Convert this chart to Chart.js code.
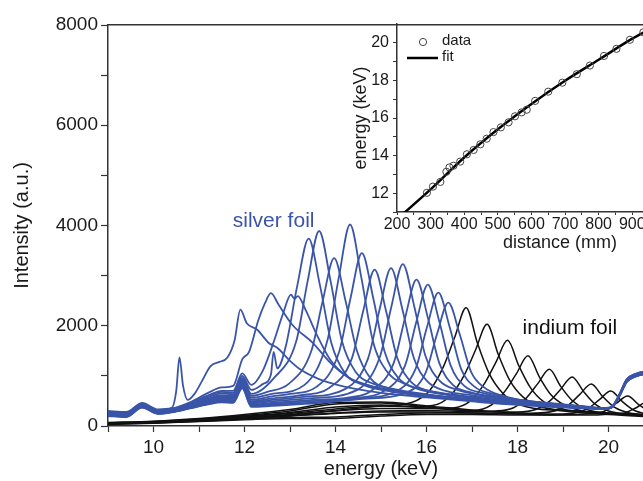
<!DOCTYPE html>
<html>
<head>
<meta charset="utf-8">
<script src="https://cdn.jsdelivr.net/npm/chart.js@4.4.0/dist/chart.umd.min.js"></script>
<style>
  html, body { margin: 0; padding: 0; background: #fff; overflow: hidden; width: 643px; height: 481px; }
  #wrap { position: relative; width: 643px; height: 481px; overflow: hidden; }
  #main { position: absolute; left: 0; top: 0; }
  #inset { position: absolute; left: 330px; top: 0; }
</style>
</head>
<body>
<div id="wrap">
  <canvas id="main" width="680" height="481"></canvas>
  <canvas id="inset" width="420" height="260"></canvas>
</div>
<script>
// spectra: [energy keV, intensity a.u.]
const silver1 = [[9.0,300],[9.4,280],[9.75,460],[10.1,330],[10.4,360],[10.5,700],[10.57,1370],[10.65,800],[10.75,520],[10.9,640],[11.05,870],[11.25,1190],[11.45,1280],[11.62,1360],[11.78,1700],[11.91,2320],[12.05,2050],[12.28,1920],[12.54,1650],[12.72,1560],[13.0,1300],[13.24,1120],[13.6,950],[14.0,830],[14.5,730],[15.0,660],[15.5,610],[16.0,570],[16.5,530],[17.0,490],[17.5,450],[18.0,420],[18.5,390],[19.0,370],[19.5,350],[19.95,340],[20.1,390],[20.25,620],[20.4,890],[20.6,1000],[20.8,1040],[21.0,1060]];
const silver2 = [[9.0,280],[9.4,265],[9.75,445],[10.1,315],[10.4,345],[10.8,470],[11.2,660],[11.5,770],[11.75,800],[11.95,1330],[12.1,1480],[12.3,2100],[12.45,2450],[12.58,2650],[12.75,2420],[13.05,2020],[13.5,1660],[13.9,1250],[14.3,960],[14.8,790],[15.3,690],[16.0,610],[16.6,550],[17.2,490],[18.0,430],[19.0,380],[19.95,350],[20.1,400],[20.25,630],[20.4,910],[20.6,1020],[20.8,1070],[21.0,1090]];
const silver3 = [[9.0,270],[9.4,250],[9.75,430],[10.1,300],[10.4,330],[10.8,450],[11.2,610],[11.5,700],[11.75,700],[11.95,1050],[12.15,820],[12.4,1100],[12.65,1700],[12.85,2250],[13.02,2620],[13.1,2540],[13.17,2590],[13.35,2300],[13.6,1800],[13.9,1300],[14.3,960],[14.8,790],[15.4,690],[16.0,620],[16.7,550],[17.4,490],[18.2,430],[19.0,390],[19.95,355],[20.1,405],[20.25,650],[20.4,930],[20.6,1040],[20.8,1090],[21.0,1110]];
const silver4 = [[9.0,260],[9.4,245],[9.75,430],[10.1,300],[10.4,330],[10.8,450],[11.2,600],[11.5,680],[11.75,660],[11.95,1000],[12.15,720],[12.41,840],[12.58,1020],[12.64,1480],[12.72,1150],[12.91,1600],[13.16,2800],[13.41,3740],[13.66,2800],[13.91,1650],[14.21,1050],[14.61,820],[15.2,690],[15.8,610],[16.5,550],[17.2,490],[18.0,440],[19.0,390],[19.95,360],[20.1,410],[20.25,650],[20.4,930],[20.6,1040],[20.8,1090],[21.0,1120]];
const silver5 = [[9.0,255],[9.4,235],[9.75,420],[10.1,290],[10.4,320],[10.8,430],[11.2,570],[11.5,650],[11.75,630],[11.95,960],[12.15,640],[12.64,950],[13.14,1700],[13.39,2900],[13.64,3890],[13.89,2900],[14.14,1700],[14.44,1080],[14.84,840],[15.44,710],[16.1,620],[16.8,550],[17.5,490],[18.3,430],[19.2,380],[19.95,350],[20.1,400],[20.25,640],[20.4,920],[20.6,1030],[20.8,1080],[21.0,1100]];
const silver6 = [[9.0,245],[9.4,228],[9.75,410],[10.1,285],[10.4,315],[10.8,420],[11.2,545],[11.5,615],[11.75,600],[11.95,930],[12.15,600],[12.5,680],[12.97,840],[13.47,1500],[13.72,2500],[13.97,3350],[14.22,2500],[14.47,1500],[14.77,950],[15.17,750],[15.77,650],[16.4,580],[17.1,520],[17.9,450],[18.8,390],[19.95,345],[20.1,395],[20.25,630],[20.4,900],[20.6,1010],[20.8,1060],[21.0,1080]];
const silver7 = [[9.0,240],[9.4,222],[9.75,405],[10.1,280],[10.4,310],[10.8,410],[11.2,525],[11.5,595],[11.75,580],[11.95,910],[12.15,560],[12.6,640],[13.32,820],[13.82,1700],[14.07,2950],[14.32,4020],[14.57,2950],[14.82,1700],[15.12,1100],[15.52,840],[16.12,690],[16.8,600],[17.5,530],[18.3,460],[19.2,400],[19.95,350],[20.1,400],[20.25,640],[20.4,910],[20.6,1020],[20.8,1070],[21.0,1090]];
const silver8 = [[9.0,235],[9.4,216],[9.75,400],[10.1,275],[10.4,305],[10.8,400],[11.2,510],[11.5,575],[11.75,560],[11.95,890],[12.15,520],[12.6,590],[13.0,640],[13.58,780],[14.08,1480],[14.33,2550],[14.58,3450],[14.83,2550],[15.08,1480],[15.38,960],[15.78,750],[16.38,630],[17.0,560],[17.8,490],[18.7,420],[19.5,370],[19.95,345],[20.1,395],[20.25,620],[20.4,890],[20.6,1000],[20.8,1050],[21.0,1070]];
const silver9 = [[9.0,230],[9.4,210],[9.75,395],[10.1,270],[10.4,300],[10.8,390],[11.2,495],[11.5,555],[11.75,545],[11.95,870],[12.15,490],[12.6,550],[13.2,610],[13.86,760],[14.36,1350],[14.61,2300],[14.86,3120],[15.11,2300],[15.36,1350],[15.66,880],[16.06,700],[16.66,610],[17.3,540],[18.1,470],[19.0,400],[19.95,340],[20.1,390],[20.25,620],[20.4,880],[20.6,990],[20.8,1040],[21.0,1060]];
const silver10 = [[9.0,225],[9.4,205],[9.75,390],[10.1,265],[10.4,295],[10.8,385],[11.2,485],[11.5,540],[11.75,530],[11.95,850],[12.15,470],[12.6,520],[13.3,580],[14.22,740],[14.72,1360],[14.97,2330],[15.22,3150],[15.47,2330],[15.72,1360],[16.02,890],[16.42,700],[17.02,610],[17.7,530],[18.5,460],[19.4,390],[19.95,345],[20.1,395],[20.25,630],[20.4,900],[20.6,1010],[20.8,1060],[21.0,1080]];
const silver11 = [[9.0,220],[9.4,200],[9.75,385],[10.1,260],[10.4,290],[10.8,375],[11.2,470],[11.5,525],[11.75,515],[11.95,830],[12.15,450],[12.6,490],[13.4,550],[14.48,720],[14.98,1390],[15.23,2390],[15.48,3230],[15.73,2390],[15.98,1390],[16.28,910],[16.68,720],[17.28,610],[18.0,520],[18.8,450],[19.6,380],[19.95,350],[20.1,400],[20.25,640],[20.4,910],[20.6,1020],[20.8,1070],[21.0,1090]];
const silver12 = [[9.0,215],[9.4,195],[9.75,380],[10.1,255],[10.4,285],[10.8,370],[11.2,460],[11.5,510],[11.75,500],[11.95,810],[12.15,430],[12.6,460],[13.5,520],[14.3,570],[14.78,700],[15.28,1260],[15.53,2160],[15.78,2920],[16.03,2160],[16.28,1260],[16.58,820],[16.98,670],[17.58,560],[18.3,480],[19.1,410],[19.95,345],[20.1,395],[20.25,620],[20.4,890],[20.6,1000],[20.8,1050],[21.0,1070]];
const silver13 = [[9.0,210],[9.4,190],[9.75,375],[10.1,250],[10.4,280],[10.8,360],[11.2,450],[11.5,495],[11.75,485],[11.95,790],[12.15,410],[12.6,440],[13.6,500],[14.4,560],[15.03,680],[15.53,1210],[15.78,2090],[16.03,2820],[16.28,2090],[16.53,1210],[16.83,800],[17.23,660],[17.83,540],[18.6,460],[19.4,390],[19.95,340],[20.1,390],[20.25,610],[20.4,880],[20.6,990],[20.8,1040],[21.0,1060]];
const silver14 = [[9.0,205],[9.4,185],[9.75,370],[10.1,245],[10.4,275],[10.8,355],[11.2,440],[11.5,480],[11.75,470],[11.95,770],[12.15,400],[12.6,420],[13.7,480],[14.5,550],[15.26,660],[15.76,1140],[16.01,1970],[16.26,2660],[16.51,1970],[16.76,1140],[17.06,780],[17.46,640],[18.06,520],[18.8,440],[19.5,380],[19.95,350],[20.1,400],[20.25,630],[20.4,900],[20.6,1010],[20.8,1060],[21.0,1080]];
const silver15 = [[9.0,200],[9.4,180],[9.75,365],[10.1,240],[10.4,270],[10.8,350],[11.2,430],[11.5,470],[11.75,460],[11.95,750],[12.15,380],[12.6,400],[13.8,470],[14.6,540],[15.48,640],[15.98,1060],[16.23,1830],[16.48,2460],[16.73,1830],[16.98,1080],[17.28,760],[17.68,600],[18.28,480],[19.0,410],[19.6,360],[19.95,340],[20.1,390],[20.25,610],[20.4,880],[20.6,990],[20.8,1040],[21.0,1060]];

const indium1 = [[9.0,50],[10.0,75],[11.0,115],[12.0,170],[13.0,230],[14.0,310],[15.0,400],[15.67,470],[16.07,710],[16.37,1180],[16.62,1770],[16.87,2360],[17.12,1650],[17.37,1060],[17.67,660],[18.07,420],[19.0,300],[20.0,230],[21.0,180]];
const indium2 = [[9.0,55],[10.0,80],[11.0,125],[12.0,185],[13.0,250],[14.0,340],[15.0,400],[15.6,390],[16.13,410],[16.53,610],[16.83,1015],[17.08,1520],[17.33,2030],[17.58,1420],[17.83,910],[18.13,570],[18.53,380],[19.5,290],[20.5,220],[21.0,200]];
const indium3 = [[9.0,45],[10.0,70],[11.0,110],[12.0,160],[13.0,220],[14.0,300],[15.0,350],[16.0,350],[16.58,360],[16.98,510],[17.28,855],[17.53,1280],[17.78,1710],[18.03,1200],[18.28,770],[18.58,480],[18.98,340],[20.0,260],[21.0,210]];
const indium4 = [[9.0,60],[10.0,85],[11.0,130],[12.0,195],[13.0,270],[14.0,380],[15.0,420],[16.0,360],[17.03,310],[17.43,420],[17.73,700],[17.98,1050],[18.23,1400],[18.48,980],[18.73,630],[19.03,420],[19.43,300],[20.5,240],[21.0,220]];
const indium5 = [[9.0,40],[10.0,65],[11.0,100],[12.0,150],[13.0,200],[14.0,260],[15.0,300],[16.0,310],[17.0,290],[17.5,300],[17.9,360],[18.2,565],[18.45,850],[18.7,1130],[18.95,790],[19.2,510],[19.5,340],[19.9,260],[21.0,220]];
const indium6 = [[9.0,65],[10.0,90],[11.0,140],[12.0,210],[13.0,300],[14.0,440],[15.0,460],[16.0,380],[17.0,300],[18.0,280],[18.4,330],[18.7,490],[18.95,735],[19.2,980],[19.45,690],[19.7,440],[20.0,300],[20.4,240],[21.0,220]];
const indium7 = [[9.0,35],[10.0,60],[11.0,95],[12.0,140],[13.0,170],[14.0,180],[15.0,230],[16.0,260],[17.0,260],[18.0,250],[18.4,260],[18.82,300],[19.12,420],[19.37,630],[19.62,840],[19.87,590],[20.12,380],[20.42,270],[21.0,220]];
const indium8 = [[9.0,70],[10.0,95],[11.0,150],[12.0,230],[13.0,330],[14.0,470],[15.0,480],[16.0,400],[17.0,320],[18.0,260],[18.85,240],[19.25,260],[19.55,350],[19.8,525],[20.05,700],[20.3,490],[20.55,320],[20.85,240],[21.0,220]];
const indium9 = [[9.0,30],[10.0,55],[11.0,90],[12.0,125],[13.0,150],[14.0,150],[15.0,200],[16.0,230],[17.0,230],[18.0,220],[19.2,230],[19.62,250],[19.92,300],[20.17,450],[20.42,600],[20.67,420],[20.92,280],[21.0,250]];
const indium10 = [[9.0,45],[10.0,70],[11.0,105],[12.0,150],[13.0,200],[14.0,250],[15.0,280],[16.0,280],[17.0,260],[18.0,240],[19.0,220],[19.65,220],[20.05,240],[20.35,260],[20.6,360],[20.85,480],[21.0,400]];

const silverSpectra = [silver1, silver2, silver3, silver4, silver5, silver6, silver7, silver8, silver9, silver10, silver11, silver12, silver13, silver14, silver15];
const indiumSpectra = [indium1, indium2, indium3, indium4, indium5, indium6, indium7, indium8, indium9, indium10];

// inset: calibration of energy vs. distance
const calDistance = [289, 307, 329, 347, 356, 368, 388, 408, 428, 448, 467, 487, 509, 532, 551, 571, 586, 611, 650, 692, 735, 774, 816, 853, 893, 933];
const calEnergy = [12.02, 12.35, 12.6, 13.14, 13.37, 13.46, 13.68, 14.07, 14.3, 14.6, 14.9, 15.25, 15.5, 15.77, 16.09, 16.3, 16.44, 16.91, 17.4, 17.88, 18.33, 18.79, 19.3, 19.68, 20.16, 20.56];
const fitDistance = [215, 300, 400, 500, 600, 700, 800, 900, 950];
const fitEnergy = [10.85, 12.2, 13.9, 15.4, 16.75, 17.98, 19.1, 20.22, 20.7];

const FONT = "'Liberation Sans', Arial, sans-serif";
const INK = '#1a1a1a';
const AXIS = '#333';
const BLUE = '#3a55a8';
Chart.defaults.font.family = FONT;
Chart.defaults.color = INK;

const datasets = [];
silverSpectra.forEach(s => {
  datasets.push({ data: s, borderColor: BLUE, borderWidth: 1.8, pointRadius: 0, cubicInterpolationMode: 'monotone', fill: false });
});
indiumSpectra.forEach(s => {
  datasets.push({ data: s, borderColor: '#111', borderWidth: 1.5, pointRadius: 0, cubicInterpolationMode: 'monotone', fill: false });
});

const foilLabels = {
  id: 'foilLabels',
  afterDatasetsDraw(chart) {
    const { ctx, scales: { x, y } } = chart;
    ctx.save();
    ctx.font = '21px ' + FONT;
    ctx.textAlign = 'center';
    ctx.textBaseline = 'middle';
    ctx.fillStyle = BLUE;
    ctx.fillText('silver foil', x.getPixelForValue(12.64), y.getPixelForValue(4080));
    ctx.fillStyle = '#111';
    ctx.fillText('indium foil', x.getPixelForValue(19.15), y.getPixelForValue(1960));
    ctx.restore();
  }
};

new Chart(document.getElementById('main'), {
  type: 'line',
  data: { datasets: datasets },
  options: {
    responsive: false,
    animation: false,
    layout: { padding: { top: 25, right: 26, left: 0, bottom: 0 } },
    plugins: { legend: { display: false }, tooltip: { enabled: false } },
    scales: {
      x: {
        type: 'linear', min: 9, max: 21, position: 'bottom',
        ticks: { stepSize: 1, autoSkip: false, maxRotation: 0, padding: 4, font: { size: 19 }, color: INK,
          callback: v => Math.round(v) % 2 === 0 ? Math.round(v) : '' },
        grid: { display: true, drawOnChartArea: false, tickLength: 6, tickColor: AXIS, tickWidth: 1.2 },
        border: { display: true, color: AXIS, width: 1.5 },
        title: { display: true, text: 'energy (keV)', font: { size: 20 }, color: INK, padding: { top: 0, bottom: 0 } },
        afterFit: s => { s.height = 55; }
      },
      xTop: {
        type: 'linear', min: 9, max: 21, position: 'top',
        ticks: { display: false },
        grid: { display: false },
        border: { display: true, color: AXIS, width: 1.5 },
        afterFit: s => { s.height = 0; }
      },
      y: {
        type: 'linear', min: 0, max: 8000,
        ticks: { stepSize: 1000, autoSkip: false, padding: 3, font: { size: 19 }, color: INK,
          callback: v => v % 2000 === 0 ? v : '' },
        grid: { display: true, drawOnChartArea: false, tickLength: 7, tickColor: AXIS, tickWidth: 1.2 },
        border: { display: true, color: AXIS, width: 1.5 },
        title: { display: true, text: 'Intensity (a.u.)', font: { size: 20 }, color: INK, padding: { top: 10, bottom: 0 } },
        afterFit: s => { s.width = 108; }
      }
    }
  },
  plugins: [foilLabels]
});

const insetLegend = {
  id: 'insetLegend',
  afterDraw(chart) {
    const { ctx, chartArea: a } = chart;
    ctx.save();
    ctx.strokeStyle = '#444';
    ctx.lineWidth = 1;
    ctx.beginPath();
    ctx.arc(a.left + 26, a.top + 18, 3.6, 0, 2 * Math.PI);
    ctx.stroke();
    ctx.fillStyle = INK;
    ctx.font = '15px ' + FONT;
    ctx.textAlign = 'left';
    ctx.textBaseline = 'middle';
    ctx.fillText('data', a.left + 45, a.top + 17);
    ctx.strokeStyle = '#000';
    ctx.lineWidth = 2.5;
    ctx.beginPath();
    ctx.moveTo(a.left + 10, a.top + 34);
    ctx.lineTo(a.left + 41, a.top + 34);
    ctx.stroke();
    ctx.fillText('fit', a.left + 45, a.top + 33);
    ctx.restore();
  }
};

new Chart(document.getElementById('inset'), {
  type: 'scatter',
  data: {
    datasets: [
      {
        label: 'data',
        data: calDistance.map((d, i) => ({ x: d, y: calEnergy[i] })),
        pointStyle: 'circle', pointRadius: 3.6, pointBorderWidth: 1,
        pointBorderColor: '#444', pointBackgroundColor: 'rgba(0,0,0,0)', showLine: false
      },
      {
        label: 'fit',
        data: fitDistance.map((d, i) => ({ x: d, y: fitEnergy[i] })),
        showLine: true, borderColor: '#000', borderWidth: 2.5, pointRadius: 0,
        cubicInterpolationMode: 'monotone'
      }
    ]
  },
  options: {
    responsive: false,
    animation: false,
    layout: { padding: { top: 24, right: 27, left: 0, bottom: 0 } },
    plugins: { legend: { display: false }, tooltip: { enabled: false } },
    scales: {
      x: {
        type: 'linear', min: 200, max: 1170,
        ticks: { stepSize: 50, autoSkip: false, maxRotation: 0, padding: 0, font: { size: 16 }, color: INK,
          callback: v => v % 100 === 0 ? v : '' },
        grid: { display: true, drawOnChartArea: false, tickLength: 3, tickColor: AXIS },
        border: { display: true, color: AXIS, width: 1.5 },
        title: { display: true, text: 'distance (mm)', font: { size: 18 }, color: INK, padding: { top: 0, bottom: 6 } },
        afterFit: s => { s.height = 48; }
      },
      y: {
        type: 'linear', min: 11, max: 21,
        ticks: { stepSize: 1, autoSkip: false, padding: 4, font: { size: 16 }, color: INK,
          callback: v => Math.round(v) % 2 === 0 ? Math.round(v) : '' },
        grid: { display: true, drawOnChartArea: false, tickLength: 4, tickColor: AXIS },
        border: { display: true, color: AXIS, width: 1.5 },
        title: { display: true, text: 'energy (keV)', font: { size: 18 }, color: INK, padding: { top: 20, bottom: 0 } },
        afterFit: s => { s.width = 67; }
      }
    }
  },
  plugins: [insetLegend]
});
</script>
</body>
</html>
